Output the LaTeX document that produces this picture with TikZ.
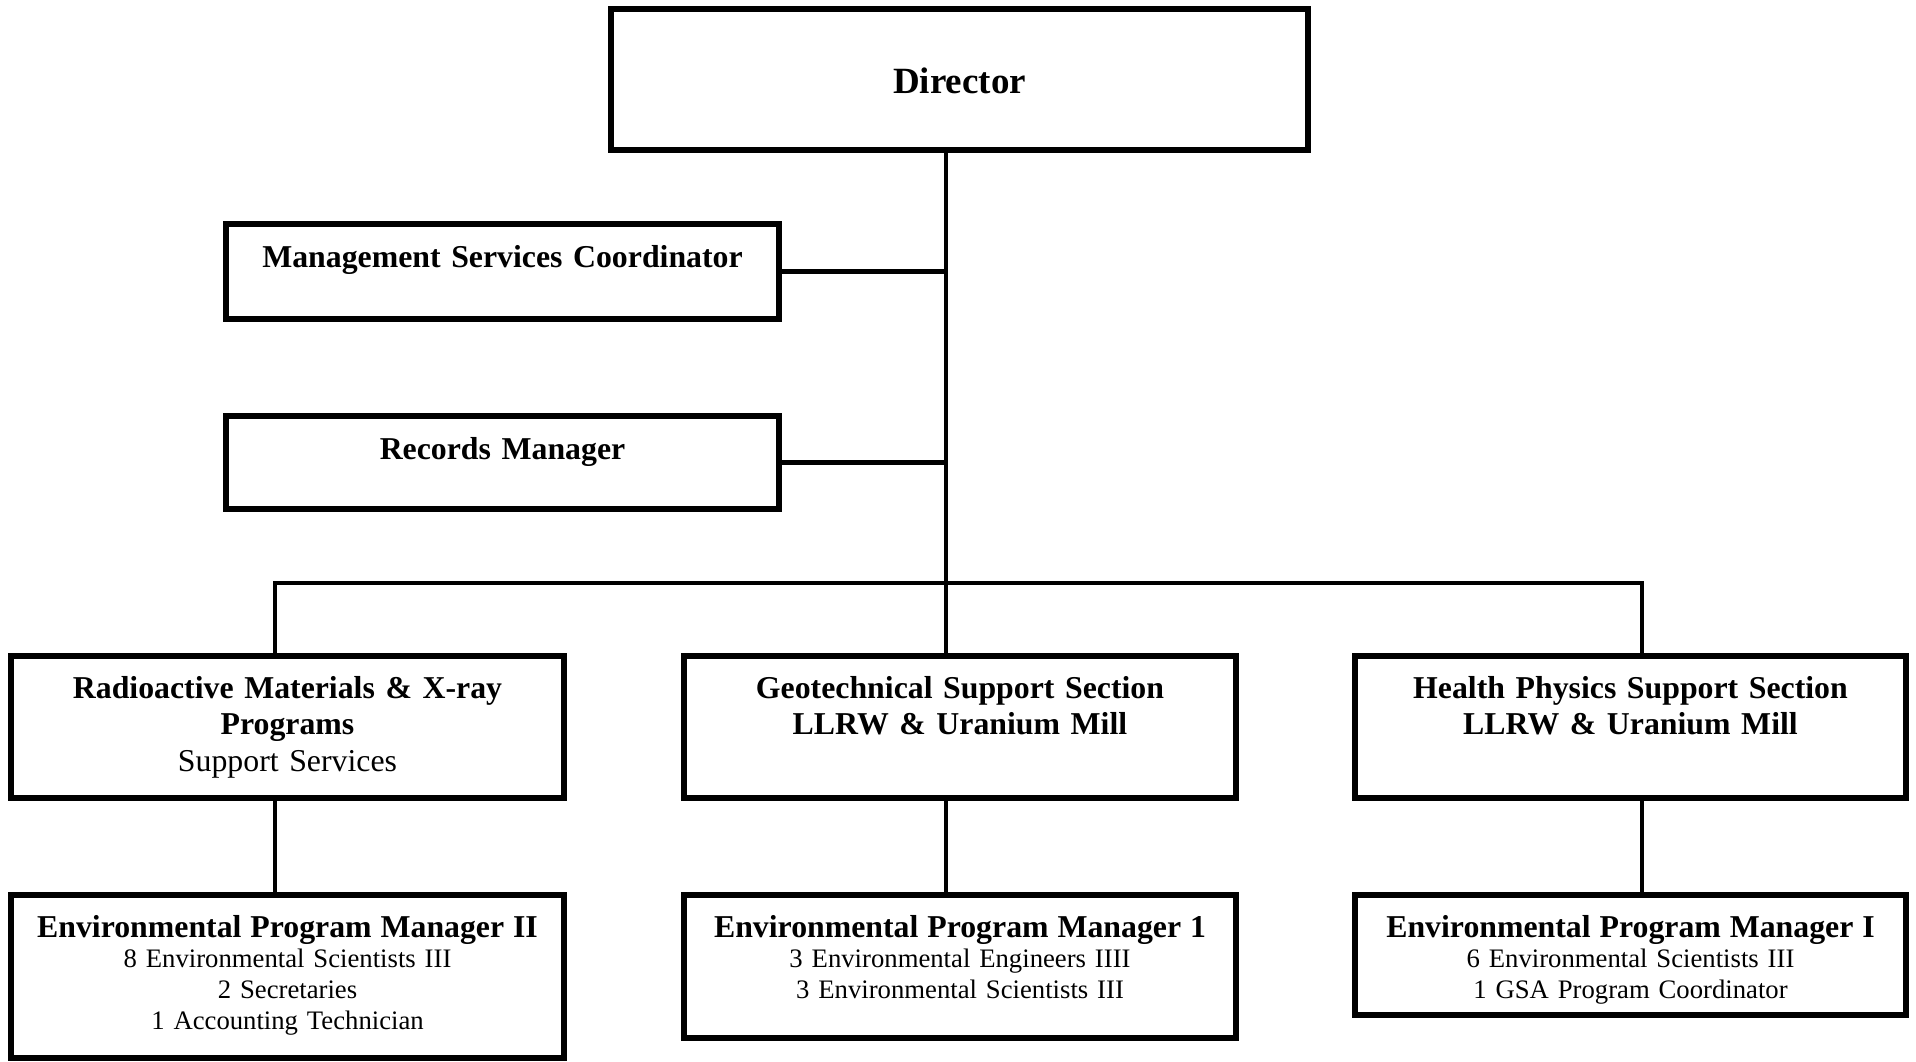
\documentclass[tikz,border=0pt]{standalone}
\usepackage{fontspec}
\setmainfont{Liberation Serif}
\usepackage{tikz}

\tikzset{
	unit/.style={draw, line width=5.5pt, rectangle, inner sep=0pt, outer sep=0pt, align=center, anchor=north west},
	title/.style={font=\fontsize{31.8}{36.7}\selectfont\bfseries},
	staff/.style={font=\fontsize{26.7}{30.7}\selectfont},
	link/.style={line width=4.5pt}
}

\begin{document}
\begin{tikzpicture}[x=1pt,y=-1pt]
			\useasboundingbox (0,0) rectangle (1916,1061);
			\node [unit, font=\fontsize{37}{40}\selectfont\bfseries, text width=697pt, text height=84pt, text depth=57pt] (dir) at (611,9) {Director};
			\node [unit, title, text width=553pt, text height=43pt, text depth=52pt] (msc) at (226,224) {Management Services Coordinator};
			\node [unit, title, text width=553pt, text height=43pt, text depth=50pt] (rec) at (226,416) {Records Manager};
			\node [unit, title, text width=553pt, text height=42pt, text depth=100pt] (rad) at (11,656) {Radioactive Materials \& X-ray\\Programs\\{\mdseries Support Services}};
			\node [unit, title, text width=552pt, text height=42pt, text depth=100pt] (geo) at (684,656) {Geotechnical Support Section\\LLRW \& Uranium Mill};
			\node [unit, title, text width=551pt, text height=42pt, text depth=100pt] (hps) at (1355,656) {Health Physics Support Section\\LLRW \& Uranium Mill};
			\node [unit, staff, text width=553pt, text height=42pt, text depth=121pt] (epm2) at (11,895) {{\bfseries\fontsize{31.8}{30.7}\selectfont Environmental Program Manager II}\\8 Environmental Scientists III\\2 Secretaries\\1 Accounting Technician};
			\node [unit, staff, text width=552pt, text height=42pt, text depth=101pt] (epm1a) at (684,895) {{\bfseries\fontsize{31.8}{30.7}\selectfont Environmental Program Manager 1}\\3 Environmental Engineers IIII\\3 Environmental Scientists III};
			\node [unit, staff, text width=551pt, text height=42pt, text depth=78pt] (epm1b) at (1355,895) {{\bfseries\fontsize{31.8}{30.7}\selectfont Environmental Program Manager I}\\6 Environmental Scientists III\\1 GSA Program Coordinator};
			\coordinate (spine) at (946,583);
			\coordinate (busL) at (275,583);
			\coordinate (busR) at (1642,583);
			\draw [link] (dir.south -| spine) -- (spine |- geo.north);
			\draw [link] (msc.east) -- (msc.east -| spine);
			\draw [link] (rec.east) -- (rec.east -| spine);
			\draw [link] (busL |- rad.north) -- (busL) -- (busR) -- (busR |- hps.north);
			\draw [link] (busL |- rad.south) -- (busL |- epm2.north);
			\draw [link] (spine |- geo.south) -- (spine |- epm1a.north);
			\draw [link] (busR |- hps.south) -- (busR |- epm1b.north);
\end{tikzpicture}
\end{document}
